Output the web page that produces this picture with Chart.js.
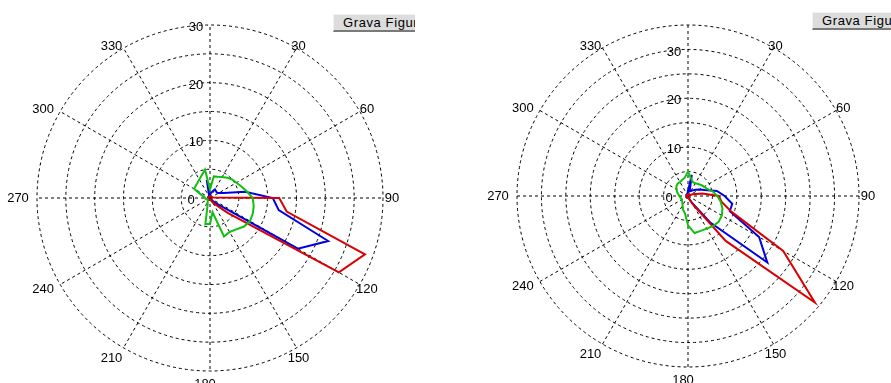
<!DOCTYPE html>
<html>
<head>
<meta charset="utf-8">
<script src="https://cdn.jsdelivr.net/npm/chart.js@4"></script>
<style>
  html, body { margin: 0; padding: 0; background: #fff; }
  body { width: 891px; height: 383px; overflow: hidden; position: relative; }
  .panel { position: absolute; overflow: hidden; background: #fff; }
  #panelL { left: 0px; top: 0px; width: 415px; height: 383px; }
  #panelR { left: 478px; top: -2px; width: 413px; height: 385px; }
  .panel canvas { position: absolute; left: 0; top: 0; }
  .btn {
    position: absolute; top: 14px; height: 18px; box-sizing: border-box;
    padding: 0 6px 0 9px; white-space: nowrap; letter-spacing: 0.6px;
    font: 13px "Liberation Sans", Arial, sans-serif; line-height: 16px; color: #000;
    background: #dcdcdc; border-style: solid; border-width: 1px 1px 2px 1px;
    border-color: #f2f2f2 #8a8a8a #7a7a7a #f2f2f2;
  }
</style>
</head>
<body>
<div class="panel" id="panelL">
  <canvas id="chartL" width="421" height="397"></canvas>
  <div class="btn" style="left:333px">Grava Figura</div>
</div>
<div class="panel" id="panelR">
  <canvas id="chartR" width="421" height="397"></canvas>
  <div class="btn" style="left:334px">Grava Figura</div>
</div>
<script>
// ---- data (angle categories every 10 degrees, compass convention) ----
const angles = [0,10,20,30,40,50,60,70,80,90,100,110,120,130,140,150,160,170,
                180,190,200,210,220,230,240,250,260,270,280,290,300,310,320,330,340,350];

const angleTickValues = [30,60,90,120,150,180,210,240,270,300,330];
const angleTickLabels = ['30','60','90','120','150','180','210','240','270','300','330'];

const radialTickLabelsL = [0,10,20,30];
const radialTickLabelsR = [0,10,20,30];
const radialMaxL = 30;
const radialMaxR = 35;

// left plot
const leftRed = [0.3,0.3,0.3,0.3,0.3,0.3,0.3,0.4,0.6,12.0,13.5,28.6,25.8,4.0,1.5,0.8,0.4,0.3,
                 0.3,0.3,0.3,0.3,0.3,0.3,0.3,0.3,0.3,0.3,0.3,0.3,0.3,0.3,0.3,0.3,0.3,0.3];
const leftBlue = [0.5,0.8,1.2,1.7,1.6,1.5,1.7,2.5,6.2,10.9,12.1,21.8,17.6,1.5,0.6,0.4,0.3,0.3,
                  0.3,0.3,0.3,0.3,0.3,0.3,0.3,0.3,0.3,0.3,0.3,0.3,0.3,0.3,0.3,0.3,0.5,3.2];
const leftGreen = [1.5,3.8,3.9,4.2,4.6,5.0,5.3,5.8,6.5,7.4,7.7,7.9,8.0,7.7,7.1,6.8,7.1,2.5,
                   4.5,4.6,1.2,0.8,0.6,0.5,0.5,0.6,0.8,0.8,1.0,1.6,3.2,3.25,3.4,3.7,4.2,5.0];

// right plot
const rightRed = [0.3,0.3,0.3,0.3,0.3,0.3,0.3,1.0,3.0,6.3,7.0,9.5,22.5,33.9,12.0,2.0,0.6,0.3,
                  0.3,0.3,0.3,0.3,0.3,0.3,0.3,0.3,0.3,0.3,0.3,0.3,0.3,0.3,0.3,0.3,0.3,0.3];
const rightBlue = [1.0,4.4,1.0,1.2,1.5,2.0,2.7,3.6,6.0,7.5,9.2,9.1,16.8,21.2,7.0,1.5,0.5,0.3,
                   0.3,0.3,0.3,0.3,0.3,0.3,0.3,0.3,0.3,0.3,0.3,0.3,0.3,0.3,0.3,0.3,0.3,0.6];
const rightGreen = [5.0,3.6,3.0,3.0,3.2,3.5,3.8,4.2,5.2,6.0,6.8,7.5,8.0,8.2,8.0,7.7,7.6,7.7,
                    6.0,3.6,3.0,2.2,1.8,1.6,1.5,1.5,1.6,1.8,2.0,2.4,2.7,3.1,3.3,3.3,3.5,3.8];

// ---- drawing ----
const FONT = '13px "Liberation Sans", Arial, sans-serif';

const polarLabels = {
  id: 'polarLabels',
  afterDraw(chart, args, opts) {
    const s = chart.scales.r;
    const ctx = chart.ctx;
    ctx.save();
    ctx.font = FONT;
    ctx.fillStyle = '#000';
    ctx.textAlign = 'center';
    ctx.textBaseline = 'middle';
    angleTickValues.forEach((a, k) => {
      const idx = angles.indexOf(a);
      const pH = s.getPointPosition(idx, s.drawingArea + 14);
      const pV = s.getPointPosition(idx, s.drawingArea + 7);
      const c = Math.cos(a * Math.PI / 180);
      ctx.fillText(angleTickLabels[k], pH.x - 5, pV.y + 6 * c * c);
    });
    opts.radial.forEach(v => {
      const d = s.getDistanceFromCenterForValue(v);
      ctx.fillText(String(v), s.xCenter + (v === 0 ? -19 : -14), s.yCenter - d + 2.5);
    });
    ctx.restore();
  }
};

function makeChart(id, red, blue, green, rmax, radial, R) {
  const padX = 210.5 - R, padY = 198.5 - R;
  const ds = (data, color) => ({
    data, borderColor: color, backgroundColor: 'transparent', fill: false,
    borderWidth: 2, pointRadius: 0, pointHoverRadius: 0, tension: 0
  });
  return new Chart(document.getElementById(id), {
    type: 'radar',
    data: {
      labels: angles.map(String),
      datasets: [ds(green, '#10c010'), ds(red, '#d80000'), ds(blue, '#0000e0')]
    },
    options: {
      responsive: false,
      animation: false,
      layout: { padding: { left: padX, right: padX, top: padY, bottom: padY } },
      plugins: { legend: { display: false }, tooltip: { enabled: false }, polarLabels: { radial } },
      elements: { line: { borderJoinStyle: 'miter' } },
      scales: {
        r: {
          min: 0, max: rmax,
          ticks: { stepSize: 5, display: false },
          pointLabels: { display: false },
          grid: { circular: true, color: '#000', lineWidth: 1 },
          border: { dash: [3, 3] },
          angleLines: {
            display: true,
            color: c => (c.index % 3 === 0 ? '#000' : 'rgba(0,0,0,0)'),
            lineWidth: c => (c.index % 3 === 0 ? 1 : 0),
            borderDash: [3, 3]
          }
        }
      }
    },
    plugins: [polarLabels]
  });
}

makeChart('chartL', leftRed, leftBlue, leftGreen, radialMaxL, radialTickLabelsL, 173);
makeChart('chartR', rightRed, rightBlue, rightGreen, radialMaxR, radialTickLabelsR, 171);
</script>
</body>
</html>
